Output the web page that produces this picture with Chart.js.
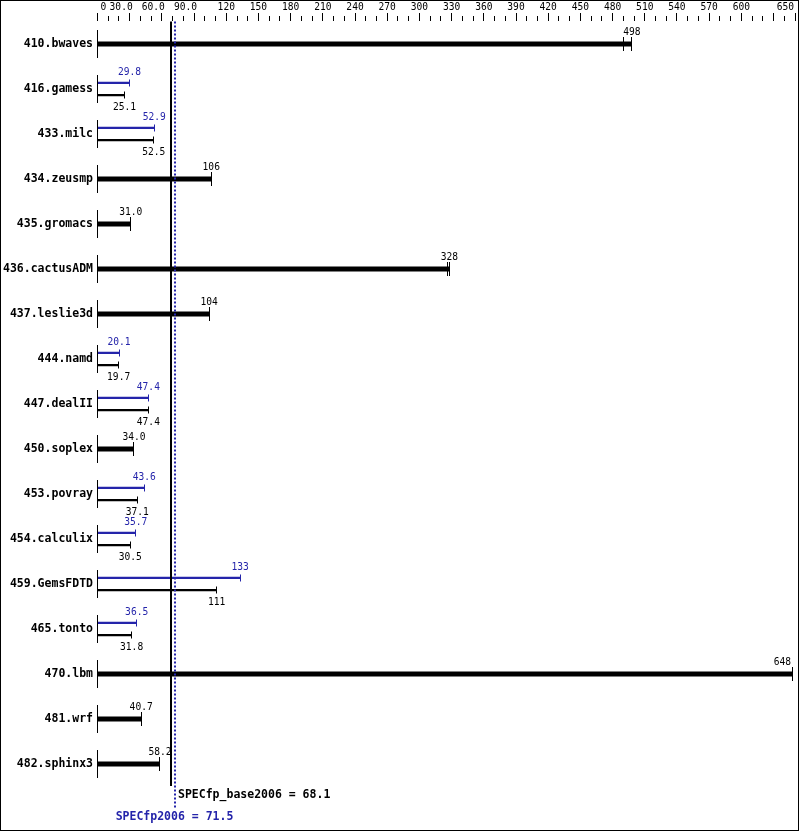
<!DOCTYPE html>
<html>
<head>
<meta charset="utf-8">
<title>SPECfp2006</title>
<script src="https://cdn.jsdelivr.net/npm/chart.js@4.4.1/dist/chart.umd.min.js"></script>
<style>
  html, body { margin: 0; padding: 0; background: #fff; }
  canvas { display: block; }
</style>
</head>
<body>
<canvas id="specChart" width="799" height="831"></canvas>
<script>
// benchmarks, top to bottom
const benchmarks = ['410.bwaves', '416.gamess', '433.milc', '434.zeusmp', '435.gromacs', '436.cactusADM',
    '437.leslie3d', '444.namd', '447.dealII', '450.soplex', '453.povray', '454.calculix',
    '459.GemsFDTD', '465.tonto', '470.lbm', '481.wrf', '482.sphinx3'];
const baseRatios = [498, 25.1, 52.5, 106, 31.0, 328, 104, 19.7, 47.4, 34.0, 37.1, 30.5, 111, 31.8, 648, 40.7, 58.2];
const peakRatios = [null, 29.8, 52.9, null, null, null, null, 20.1, 47.4, null, 43.6, 35.7, 133, 36.5, null, null, null];
// second short tick seen next to the end of two of the single bars
const extraTicks = [490, null, null, null, null, 326, null, null, null, null, null, null, null, null, null, null, null];
// labelled axis ticks (minor ticks every 10 in between)
const axisTicks = [0, 30, 60, 90, 120, 150, 180, 210, 240, 270, 300, 330, 360, 390, 420, 450, 480, 510, 540, 570, 600, 650];
const baseScore = 68.1;
const peakScore = 71.5;

const BLUE = '#2424aa';
const BLACK = '#000000';
const MONO = '"DejaVu Sans Mono", monospace';
const SMALL = '9.6px ' + MONO;

// rows with no peak run get one thick bar, the others a thin pair
const singleBars = baseRatios.map((v, i) => peakRatios[i] == null ? v : null);
const baseBars = baseRatios.map((v, i) => peakRatios[i] == null ? null : v);

function fmt(v) {
    if (v === 0) return '0';
    return v >= 100 ? v.toFixed(0) : v.toFixed(1);
}

const specDecor = {
    id: 'specDecor',
    afterDatasetsDraw(chart) {
        const ctx = chart.ctx;
        const x = chart.scales.x;
        const y = chart.scales.y;
        const area = chart.chartArea;
        ctx.save();

        // frame
        ctx.strokeStyle = BLACK;
        ctx.lineWidth = 1;
        ctx.strokeRect(0.5, 0.5, 798, 830);

        // top axis tick marks
        for (let v = 0; v <= 650; v += 10) {
            const major = axisTicks.includes(v) || v % 30 === 0;
            const px = Math.floor(x.getPixelForValue(v)) + 0.5;
            ctx.beginPath();
            ctx.moveTo(px, major ? 13 : 16);
            ctx.lineTo(px, 21);
            ctx.stroke();
        }
        // top axis labels
        ctx.font = SMALL;
        ctx.fillStyle = BLACK;
        ctx.textBaseline = 'middle';
        axisTicks.forEach(v => {
            const txt = fmt(v);
            const px = x.getPixelForValue(v);
            const w = ctx.measureText(txt).width;
            let left;
            if (v === 0) left = px + 3;
            else if (txt.includes('.')) left = px + 3 - w;
            else left = px - w / 2;
            if (left + w > 794) left = 794 - w;
            ctx.textAlign = 'left';
            ctx.fillText(txt, left, 7.5);
        });

        // zero line for each row and extra ticks
        benchmarks.forEach((b, i) => {
            const cy = y.getPixelForValue(i);
            const px0 = Math.floor(x.getPixelForValue(0)) + 0.5;
            ctx.strokeStyle = BLACK;
            ctx.beginPath();
            ctx.moveTo(px0, cy - 14);
            ctx.lineTo(px0, cy + 14);
            ctx.stroke();
            if (extraTicks[i] != null) {
                const pe = Math.floor(x.getPixelForValue(extraTicks[i])) + 0.5;
                ctx.beginPath();
                ctx.moveTo(pe, cy - 7);
                ctx.lineTo(pe, cy + 7);
                ctx.stroke();
            }
        });

        // end caps and value labels
        ctx.font = SMALL;
        ctx.textAlign = 'center';
        chart.data.datasets.forEach((ds, di) => {
            const meta = chart.getDatasetMeta(di);
            meta.data.forEach((el, i) => {
                const v = ds.data[i];
                if (v == null) return;
                const px = Math.floor(el.x) + 0.5;
                const half = ds.kind === 'single' ? 7 : 3.5;
                ctx.strokeStyle = ds.backgroundColor;
                ctx.beginPath();
                ctx.moveTo(px, el.y - half);
                ctx.lineTo(px, el.y + half);
                ctx.stroke();

                const txt = fmt(v);
                const w = ctx.measureText(txt).width;
                let tx = el.x;
                if (tx + w / 2 > 791) tx = 791 - w / 2;
                let ty = el.y - 12;
                if (ds.kind === 'base') ty = el.y + 12;
                if (ds.kind === 'peak') ty = el.y - 10.5;
                ctx.fillStyle = ds.backgroundColor;
                ctx.fillText(txt, tx, ty);
            });
        });

        // overall score lines
        const bx = Math.round(x.getPixelForValue(baseScore));
        const pxs = Math.round(x.getPixelForValue(peakScore)) + 1;
        ctx.strokeStyle = BLACK;
        ctx.lineWidth = 2;
        ctx.beginPath();
        ctx.moveTo(bx, area.top);
        ctx.lineTo(bx, 786);
        ctx.stroke();

        ctx.strokeStyle = BLUE;
        ctx.lineWidth = 2;
        ctx.setLineDash([2, 2]);
        ctx.beginPath();
        ctx.moveTo(pxs, area.top);
        ctx.lineTo(pxs, 808);
        ctx.stroke();
        ctx.setLineDash([]);

        ctx.font = 'bold 11.5px ' + MONO;
        ctx.fillStyle = BLACK;
        ctx.textAlign = 'left';
        ctx.fillText('SPECfp_base2006 = ' + baseScore.toFixed(1), bx + 7, 795.5);
        ctx.fillStyle = BLUE;
        ctx.textAlign = 'center';
        ctx.fillText('SPECfp2006 = ' + peakScore.toFixed(1), pxs - 0.5, 817);

        ctx.restore();
    }
};

new Chart(document.getElementById('specChart'), {
    type: 'bar',
    data: {
        labels: benchmarks,
        datasets: [
            { kind: 'peak', label: 'Peak', data: peakRatios, backgroundColor: BLUE,
              categoryPercentage: 0.5334, barPercentage: 0.1875, skipNull: true },
            { kind: 'base', label: 'Base', data: baseBars, backgroundColor: BLACK,
              categoryPercentage: 0.5334, barPercentage: 0.1875, skipNull: true },
            { kind: 'single', label: 'Base', data: singleBars, backgroundColor: BLACK,
              categoryPercentage: 0.5334, barPercentage: 0.2084, skipNull: true }
        ]
    },
    options: {
        indexAxis: 'y',
        responsive: false,
        devicePixelRatio: 1,
        animation: false,
        layout: { padding: { top: 21.5, bottom: 44.5, left: 0, right: 4 } },
        plugins: { legend: { display: false }, tooltip: { enabled: false } },
        scales: {
            x: { type: 'linear', position: 'top', min: 0, max: 650, display: false },
            y: {
                type: 'category',
                position: 'left',
                grid: { display: false, drawTicks: false },
                border: { display: false },
                ticks: { color: BLACK, padding: 4.5, autoSkip: false,
                         font: { family: MONO, size: 11.5, weight: 'bold' } },
                afterFit: (s) => { s.width = 97.5; }
            }
        }
    },
    plugins: [specDecor]
});
</script>
</body>
</html>
